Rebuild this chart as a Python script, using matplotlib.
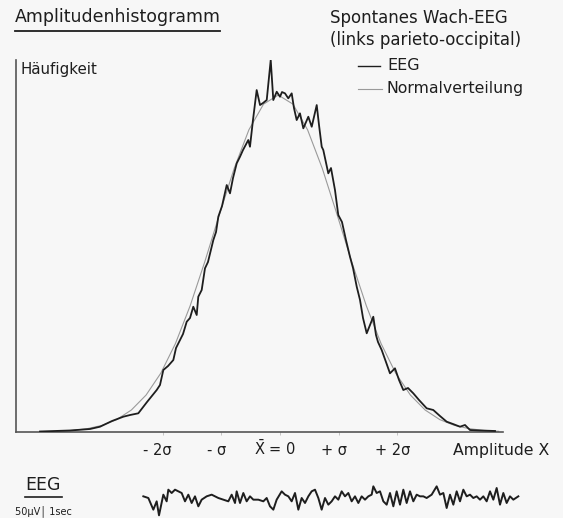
import matplotlib
matplotlib.use("Agg")
import matplotlib.pyplot as plt
from matplotlib.transforms import blended_transform_factory

# Amplitude histogram of a spontaneous waking EEG, x in units of sigma
hist_x = [-4.085, -3.574, -3.234, -3.064, -2.860, -2.667, -2.553, -2.412, -2.264, -2.099,
          -2.043, -1.986, -1.906, -1.816, -1.770, -1.702, -1.651, -1.588, -1.532, -1.476,
          -1.418, -1.391, -1.333, -1.277, -1.226, -1.135, -1.089, -1.050, -0.987, -0.907,
          -0.851, -0.800, -0.737, -0.681, -0.630, -0.540, -0.511, -0.460, -0.397, -0.340,
          -0.289, -0.226, -0.158, -0.114, -0.056, 0.000, 0.034, 0.085, 0.141, 0.199,
          0.238, 0.284, 0.340, 0.397, 0.482, 0.540, 0.625, 0.664, 0.710, 0.737,
          0.822, 0.868, 0.936, 0.992, 1.055, 1.123, 1.191, 1.243, 1.306, 1.362,
          1.413, 1.476, 1.532, 1.588, 1.634, 1.668, 1.731, 1.804, 1.872, 1.957,
          2.026, 2.099, 2.179, 2.269, 2.366, 2.497, 2.609, 2.723, 2.837, 2.945,
          3.064, 3.149, 3.234, 3.404, 3.660]
hist_y = [0.15, 0.45, 0.89, 1.57, 3.26, 4.54, 5.04, 5.55, 8.90, 12.46,
          13.95, 18.40, 19.58, 21.36, 24.93, 27.30, 29.08, 32.73, 33.83, 37.18,
          34.72, 40.15, 42.14, 48.58, 50.45, 56.97, 59.35, 63.89, 67.06, 73.29,
          70.83, 75.37, 79.73, 81.69, 83.68, 86.65, 84.66, 92.58, 101.48, 97.03,
          97.63, 98.52, 110.39, 98.52, 100.98, 99.50, 100.89, 100.50, 99.02, 100.50,
          96.14, 92.58, 94.57, 90.12, 93.56, 90.59, 97.03, 91.10, 84.66, 83.68,
          76.77, 78.34, 71.81, 64.39, 62.32, 56.97, 52.02, 48.66, 43.12, 39.17,
          33.83, 29.29, 31.75, 34.21, 28.78, 26.71, 24.33, 20.77, 17.42, 18.90,
          15.43, 12.46, 13.06, 11.48, 9.50, 7.03, 6.53, 4.75, 3.06, 2.37,
          1.57, 2.08, 0.59, 0.45, 0.30]

# Fitted normal distribution
normal_x = [-3.78, -3.53, -3.28, -3.03, -2.78, -2.53, -2.28, -2.03, -1.78, -1.53,
            -1.28, -1.03, -0.78, -0.53, -0.28, -0.03, 0.22, 0.47, 0.72, 0.97,
            1.22, 1.47, 1.72, 1.97, 2.22, 2.47, 2.72, 2.97, 3.22, 3.47, 3.72]
normal_y = [0.21, 0.47, 0.99, 1.96, 3.68, 6.53, 10.96, 17.43, 26.25, 37.43,
            50.54, 64.61, 78.22, 89.66, 97.31, 100.00, 97.31, 89.66, 78.22, 64.61,
            50.54, 37.43, 26.25, 17.43, 10.96, 6.53, 3.68, 1.96, 0.99, 0.47, 0.21]

tick_pos = [-2, -1, 0, 1, 2]
tick_labels = ["- 2σ", "- σ", r"$\bar{\mathrm{X}}$ = 0", "+ σ", "+ 2σ"]

# Raw EEG sample strip
trace_time = [25, 40, 55, 65, 72, 85, 95, 100, 110, 120,
              130, 140, 150, 160, 170, 180, 190, 200, 215, 230,
              250, 265, 280, 290, 300, 305, 315, 325, 335, 345,
              355, 370, 385, 395, 405, 415, 425, 440, 450, 460,
              470, 480, 490, 500, 510, 520, 530, 540, 550, 560,
              570, 580, 590, 600, 610, 620, 630, 640, 650, 660,
              670, 680, 690, 700, 710, 715, 725, 735, 745, 755,
              765, 775, 785, 795, 805, 815, 825, 835, 845, 855,
              865, 875, 890, 905, 915, 925, 935, 945, 955, 965,
              975, 985, 995, 1005, 1015, 1025, 1035, 1045, 1055, 1065,
              1075, 1085, 1095, 1105, 1115, 1125, 1135, 1150]
trace_uv = [5, 0, -35, -10, -52, 10, -10, 25, 15, 25,
            20, 15, -10, 10, -15, 5, -25, -5, 5, 10,
            0, -5, -10, 10, -15, 20, -15, 15, -10, 5,
            -5, -5, -10, 0, -25, -35, -5, 20, 10, 5,
            -10, 15, -35, 0, -15, 5, 20, 25, 0, -35,
            0, -20, -10, 5, -5, 20, 5, 15, -10, 5,
            -15, 5, -5, 5, 10, 35, 15, 20, -10, -20,
            15, -25, 20, -20, 25, -15, 20, -10, 10, 5,
            5, 0, 10, 35, 10, 15, -30, 10, -20, 20,
            -10, 25, 5, 10, 0, 5, -5, 5, -10, 20,
            -5, 30, -20, 15, -15, 5, -5, 5]

W, H = 563, 518
BG = "#f7f7f7"
INK = "#1e1e1e"
plt.rcParams["font.family"] = ["DejaVu Sans"]
plt.rcParams["mathtext.fontset"] = "dejavusans"

fig = plt.figure(figsize=(W / 100, H / 100), dpi=100, facecolor=BG)


def fx(px):
    return px / W


def fy(py):
    return 1 - py / H


# main histogram axes
ax = fig.add_axes([fx(16), fy(432), fx(503) - fx(16), fy(60) - fy(432)])
ax.set_facecolor(BG)
ax.set_xlim(-4.494, 3.796)
ax.set_ylim(0, 110.4)
ax.plot(normal_x, normal_y, color="#9a9a9a", lw=0.8, zorder=2)
ax.plot(hist_x, hist_y, color=INK, lw=1.3, zorder=3)
for s in ("top", "right"):
    ax.spines[s].set_visible(False)
ax.spines["left"].set_color("#555555")
ax.spines["bottom"].set_color("#555555")
ax.spines["left"].set_linewidth(1.2)
ax.spines["bottom"].set_linewidth(1.2)
ax.set_yticks([])
ax.set_xticks(tick_pos)
ax.set_xticklabels([])
ax.tick_params(axis="x", length=2, width=0.6, color="#bbbbbb")

# sigma labels share one baseline under the axis
xlab_tr = blended_transform_factory(ax.transData, ax.transAxes)
for pos, lab in zip(tick_pos, tick_labels):
    ax.text(pos - 0.08, -0.0618, lab, transform=xlab_tr, fontsize=10.5, color=INK,
            ha="center", va="baseline", clip_on=False)

fig.text(fx(549), fy(450), "Amplitude X", fontsize=11.3, color=INK,
         ha="right", va="center")

# titles and labels
fig.text(fx(15), fy(17), "Amplitudenhistogramm", fontsize=12.5, color=INK,
         ha="left", va="center")
fig.add_artist(plt.Line2D([fx(15), fx(220)], [fy(31), fy(31)], color=INK, lw=1.3))
fig.text(fx(21), fy(69), "Häufigkeit", fontsize=10.8, color=INK, ha="left", va="center")
fig.text(fx(330), fy(18), "Spontanes Wach-EEG", fontsize=12, color=INK,
         ha="left", va="center")
fig.text(fx(330), fy(40), "(links parieto-occipital)", fontsize=12, color=INK,
         ha="left", va="center")

# legend
fig.add_artist(plt.Line2D([fx(358), fx(380)], [fy(66), fy(66)], color=INK, lw=1.0))
fig.text(fx(387), fy(66), "EEG", fontsize=11.5, color=INK, ha="left", va="center")
fig.add_artist(plt.Line2D([fx(358), fx(382)], [fy(89), fy(89)], color="#9a9a9a", lw=0.8))
fig.text(fx(387), fy(89), "Normalverteilung", fontsize=11.3, color=INK,
         ha="left", va="center")

# EEG sample strip
fig.text(fx(25), fy(485), "EEG", fontsize=12.5, color=INK, ha="left", va="center")
fig.add_artist(plt.Line2D([fx(25), fx(62)], [fy(497), fy(497)], color=INK, lw=1.2))
fig.text(fx(15), fy(511), "50µV│ 1sec", fontsize=7, color=INK, ha="left", va="center")

tax = fig.add_axes([fx(135), 0, fx(525) - fx(135), 40 / H])
tax.set_xlim(0, 1170)
tax.set_ylim(-60, 60)
tax.axis("off")
tax.plot(trace_time, trace_uv, color=INK, lw=1.4)

fig.savefig("out.png", dpi=100, facecolor=BG)
